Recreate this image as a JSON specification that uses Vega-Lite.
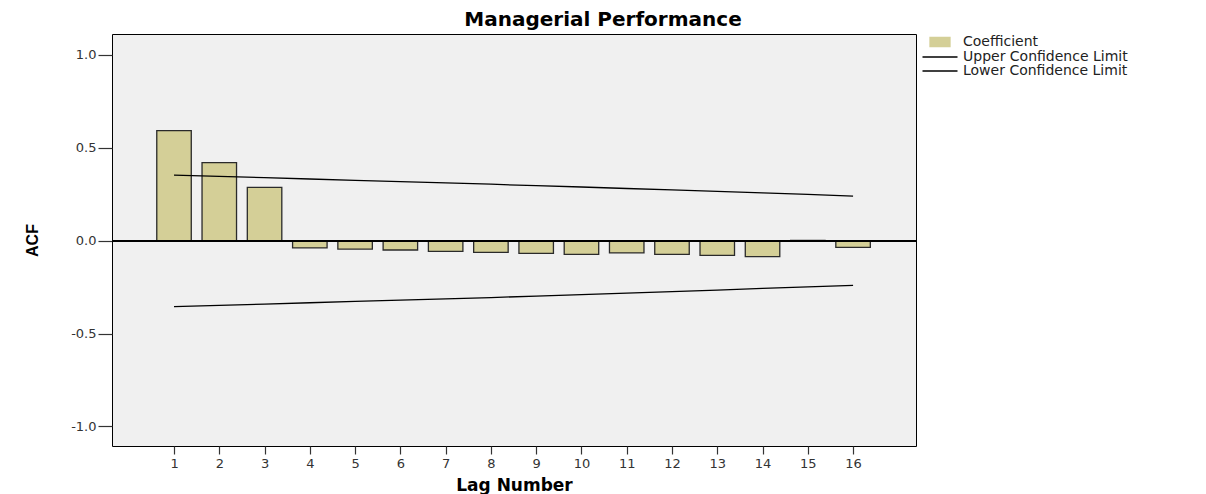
{
  "$schema": "https://vega.github.io/schema/vega-lite/v6.json",
  "autosize": {"type": "none"},
  "padding": {"left": 112, "top": 34, "right": 290, "bottom": 48},
  "width": 804,
  "height": 412,
  "background": "#ffffff",
  "title": {
    "text": "Managerial Performance",
    "font": "DejaVu Sans",
    "fontSize": 20,
    "fontWeight": "bold",
    "color": "#000000",
    "anchor": "middle",
    "dx": 89,
    "offset": 4
  },
  "config": {
    "view": {"fill": "#F0F0F0", "stroke": "#000000", "strokeWidth": 1},
    "axis": {"grid": false, "domain": false}
  },
  "data": {
    "values": [
      {"lag": 1, "series": "Coefficient", "value": 0.592},
      {"lag": 2, "series": "Coefficient", "value": 0.42},
      {"lag": 3, "series": "Coefficient", "value": 0.287},
      {"lag": 4, "series": "Coefficient", "value": -0.039},
      {"lag": 5, "series": "Coefficient", "value": -0.045},
      {"lag": 6, "series": "Coefficient", "value": -0.05},
      {"lag": 7, "series": "Coefficient", "value": -0.057},
      {"lag": 8, "series": "Coefficient", "value": -0.063},
      {"lag": 9, "series": "Coefficient", "value": -0.068},
      {"lag": 10, "series": "Coefficient", "value": -0.074},
      {"lag": 11, "series": "Coefficient", "value": -0.066},
      {"lag": 12, "series": "Coefficient", "value": -0.074},
      {"lag": 13, "series": "Coefficient", "value": -0.079},
      {"lag": 14, "series": "Coefficient", "value": -0.086},
      {"lag": 15, "series": "Coefficient", "value": 0.002},
      {"lag": 16, "series": "Coefficient", "value": -0.036},
      {"lag": 1, "series": "Upper Confidence Limit", "value": 0.353},
      {"lag": 2, "series": "Upper Confidence Limit", "value": 0.346},
      {"lag": 3, "series": "Upper Confidence Limit", "value": 0.339},
      {"lag": 4, "series": "Upper Confidence Limit", "value": 0.332},
      {"lag": 5, "series": "Upper Confidence Limit", "value": 0.325},
      {"lag": 6, "series": "Upper Confidence Limit", "value": 0.318},
      {"lag": 7, "series": "Upper Confidence Limit", "value": 0.311},
      {"lag": 8, "series": "Upper Confidence Limit", "value": 0.304},
      {"lag": 9, "series": "Upper Confidence Limit", "value": 0.296},
      {"lag": 10, "series": "Upper Confidence Limit", "value": 0.289},
      {"lag": 11, "series": "Upper Confidence Limit", "value": 0.281},
      {"lag": 12, "series": "Upper Confidence Limit", "value": 0.273},
      {"lag": 13, "series": "Upper Confidence Limit", "value": 0.265},
      {"lag": 14, "series": "Upper Confidence Limit", "value": 0.257},
      {"lag": 15, "series": "Upper Confidence Limit", "value": 0.249},
      {"lag": 16, "series": "Upper Confidence Limit", "value": 0.240},
      {"lag": 1, "series": "Lower Confidence Limit", "value": -0.355},
      {"lag": 2, "series": "Lower Confidence Limit", "value": -0.348},
      {"lag": 3, "series": "Lower Confidence Limit", "value": -0.341},
      {"lag": 4, "series": "Lower Confidence Limit", "value": -0.334},
      {"lag": 5, "series": "Lower Confidence Limit", "value": -0.327},
      {"lag": 6, "series": "Lower Confidence Limit", "value": -0.320},
      {"lag": 7, "series": "Lower Confidence Limit", "value": -0.313},
      {"lag": 8, "series": "Lower Confidence Limit", "value": -0.306},
      {"lag": 9, "series": "Lower Confidence Limit", "value": -0.298},
      {"lag": 10, "series": "Lower Confidence Limit", "value": -0.290},
      {"lag": 11, "series": "Lower Confidence Limit", "value": -0.282},
      {"lag": 12, "series": "Lower Confidence Limit", "value": -0.274},
      {"lag": 13, "series": "Lower Confidence Limit", "value": -0.266},
      {"lag": 14, "series": "Lower Confidence Limit", "value": -0.257},
      {"lag": 15, "series": "Lower Confidence Limit", "value": -0.249},
      {"lag": 16, "series": "Lower Confidence Limit", "value": -0.240}
    ]
  },
  "encoding": {
    "x": {
      "field": "lag",
      "type": "quantitative",
      "scale": {"domain": [-0.37, 17.39], "nice": false, "zero": false, "padding": 0},
      "axis": {
        "title": "Lag Number",
        "values": [1,2,3,4,5,6,7,8,9,10,11,12,13,14,15,16],
        "format": "d",
        "tickSize": 8,
        "tickColor": "#333333",
        "tickWidth": 1.2,
        "labelPadding": 3,
        "labelFont": "DejaVu Sans",
        "labelFontSize": 13,
        "labelColor": "#333333",
        "labelFlush": false,
        "titleFont": "DejaVu Sans",
        "titleFontSize": 17,
        "titleFontWeight": "bold",
        "titleColor": "#000000",
        "titlePadding": 7
      }
    },
    "y": {
      "field": "value",
      "type": "quantitative",
      "scale": {"domain": [-1.105, 1.1125], "nice": false, "zero": false, "padding": 0},
      "axis": {
        "title": "ACF",
        "values": [-1, -0.5, 0, 0.5, 1],
        "labelExpr": "datum.value < 0 ? '-' + format(-datum.value, '.1f') : format(datum.value, '.1f')",
        "tickSize": 14,
        "tickColor": "#333333",
        "tickWidth": 1.2,
        "labelPadding": 2,
        "labelFont": "DejaVu Sans",
        "labelFontSize": 13,
        "labelColor": "#333333",
        "labelFlush": false,
        "titleFont": "Liberation Sans",
        "titleFontSize": 16,
        "titleFontWeight": "bold",
        "titleColor": "#000000",
        "titlePadding": 30
      }
    },
    "color": {
      "field": "series",
      "type": "nominal",
      "scale": {
        "domain": ["Coefficient", "Upper Confidence Limit", "Lower Confidence Limit"],
        "range": ["#D4CF97", "#000000", "#000000"]
      },
      "legend": {
        "orient": "none",
        "legendX": 821,
        "legendY": 1,
        "title": null,
        "padding": 0,
        "symbolSize": 100,
        "labelOffset": 16,
        "rowPadding": 0,
        "labelLimit": 400,
        "labelFont": "DejaVu Sans",
        "labelFontSize": 14,
        "labelColor": "#222222",
        "encode": {
          "symbols": {
            "update": {
              "shape": {"signal": "datum.value === 'Coefficient' ? 'M-2,-0.9H2V0.9H-2Z' : 'M-3.5,0H3.5'"},
              "fill": {"signal": "datum.value === 'Coefficient' ? '#D4CF97' : 'transparent'"},
              "stroke": {"signal": "datum.value === 'Coefficient' ? '#333333' : '#000000'"},
              "strokeWidth": {"value": 1.3},
              "opacity": {"value": 1}
            }
          }
        }
      }
    }
  },
  "layer": [
    {
      "transform": [{"filter": "datum.series === 'Coefficient'"}],
      "mark": {"type": "bar", "size": 34.5, "stroke": "#2a2a2a", "strokeWidth": 1.3, "opacity": 1}
    },
    {
      "mark": {"type": "rule", "color": "#000000", "strokeWidth": 1.2},
      "encoding": {"y": {"datum": 0}, "x": null, "color": null}
    },
    {
      "transform": [{"filter": "datum.series !== 'Coefficient'"}],
      "mark": {"type": "line", "strokeWidth": 1.3}
    }
  ]
}
